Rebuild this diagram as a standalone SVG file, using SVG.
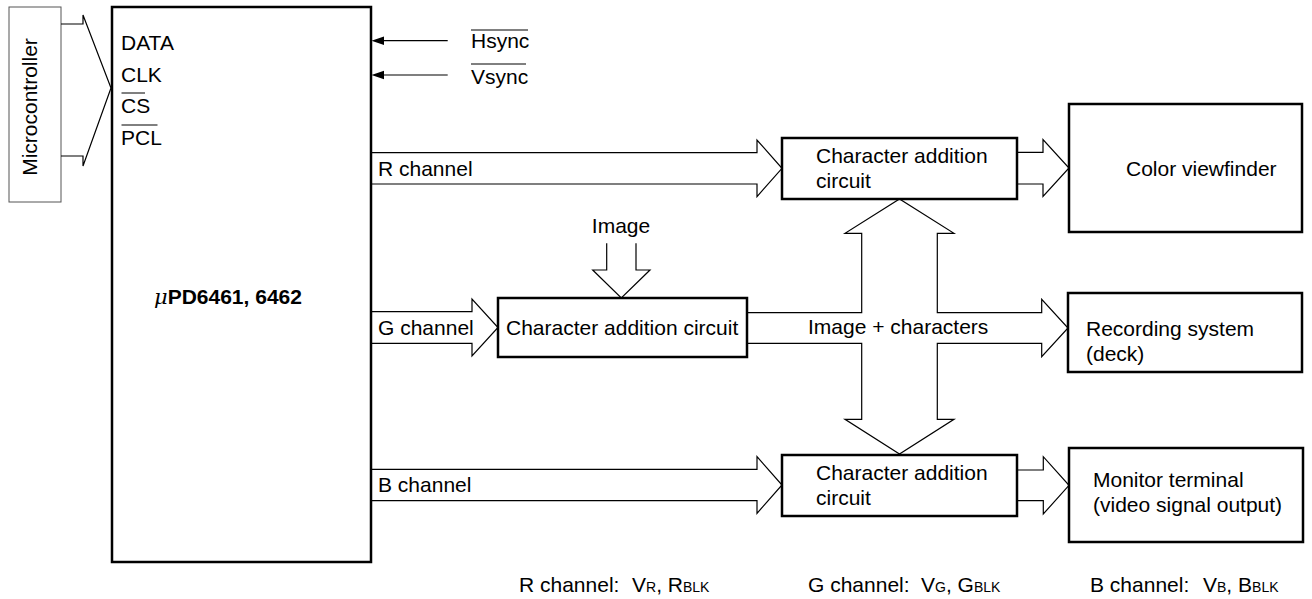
<svg xmlns="http://www.w3.org/2000/svg" width="1312" height="599" viewBox="0 0 1312 599">
<style>
text{font-family:"Liberation Sans",Arial,sans-serif;font-size:21px;fill:#000}
.thick{fill:#fff;stroke:#000;stroke-width:2.5}
.thin{fill:none;stroke:#000;stroke-width:1}
.conn{fill:none;stroke:#000;stroke-width:1.2}
.head{fill:#000;stroke:none}
.sub{font-size:14px}
</style>
<rect width="1312" height="599" fill="#fff"/>

<g id="microcontroller">
<rect x="9" y="7" width="52" height="195" fill="#fff" stroke="#555" stroke-width="1"/>
<text transform="translate(37,107) rotate(-90)" text-anchor="middle">Microcontroller</text>
</g>

<g id="chip">
<rect x="112" y="7" width="259" height="555" class="thick"/>
<text x="121" y="50">DATA</text>
<text x="121" y="82">CLK</text>
<text x="121" y="113">CS</text>
<line x1="121.5" y1="93" x2="145" y2="93" class="thin"/>
<text x="121" y="145">PCL</text>
<line x1="121.5" y1="125" x2="157.5" y2="125" class="thin"/>
<text x="154" y="304"><tspan font-style="italic" font-family="'DejaVu Serif',serif">μ</tspan><tspan font-weight="bold">PD6461, 6462</tspan></text>
</g>

<g id="hsync">
<text x="471" y="48">Hsync</text>
<line x1="471" y1="30" x2="528" y2="30" class="thin"/>
</g>
<g id="vsync">
<text x="471" y="84">Vsync</text>
<line x1="471" y1="64" x2="526" y2="64" class="thin"/>
</g>

<g id="char-r">
<rect x="782" y="138" width="235" height="61" class="thick"/>
<text x="816" y="163">Character addition</text>
<text x="816" y="188">circuit</text>
</g>
<g id="char-g">
<rect x="498" y="298" width="249" height="59" class="thick"/>
<text x="506" y="335">Character addition circuit</text>
</g>
<g id="char-b">
<rect x="782" y="455" width="235" height="61" class="thick"/>
<text x="816" y="480">Character addition</text>
<text x="816" y="505">circuit</text>
</g>

<g id="viewfinder">
<rect x="1069" y="104" width="233" height="128" class="thick"/>
<text x="1126" y="176">Color viewfinder</text>
</g>
<g id="recording">
<rect x="1068" y="293" width="234" height="79" class="thick"/>
<text x="1086" y="336">Recording system</text>
<text x="1086" y="361">(deck)</text>
</g>
<g id="monitor">
<rect x="1069" y="448" width="234" height="94" class="thick"/>
<text x="1093" y="487">Monitor terminal</text>
<text x="1093" y="512">(video signal output)</text>
</g>

<g id="labels">
<text x="378" y="176">R channel</text>
<text x="378" y="335">G channel</text>
<text x="378" y="492">B channel</text>
<text x="621" y="233" text-anchor="middle">Image</text>
<text x="808" y="334">Image + characters</text>
<text x="519" y="592">R channel:<tspan x="632">V</tspan><tspan class="sub">R</tspan>, R<tspan class="sub">BLK</tspan></text>
<text x="808" y="592">G channel:<tspan x="921">V</tspan><tspan class="sub">G</tspan>, G<tspan class="sub">BLK</tspan></text>
<text x="1090" y="592">B channel:<tspan x="1203">V</tspan><tspan class="sub">B</tspan>, B<tspan class="sub">BLK</tspan></text>
</g>

<g id="connectors">
<path class="conn" d="M61,24 H83 V15 L111,88 L83,166 V156 H61"/>
<line x1="447.7" y1="40.7" x2="382" y2="40.7" class="conn" stroke="#555"/>
<polygon class="head" points="371.5,40.7 384,36.5 384,44.9"/>
<line x1="447.7" y1="75" x2="382" y2="75" class="conn"/>
<polygon class="head" points="371.5,75 384,70.8 384,79.2"/>
<path class="conn" d="M371,152.7 H757 V140 L782,168.3 L757,196.6 V184 H371"/>
<path class="conn" d="M1017,152.3 H1043 V139.5 L1069,168 L1043,196.5 V184 H1017"/>
<path class="conn" d="M371,311.7 H472 V299 L498,327.5 L472,356 V343.3 H371"/>
<path class="conn" d="M606.7,243.3 V270 H592.7 L621.3,298 L650,270 H636 V243.3"/>
<path class="conn" d="M748,312.7 H861.7 V233.3 H845 L899.5,199 L954,233.3 H937.3 V312.7 H1041.7 V299.3 L1068,328 L1041.7,356.7 V343.3 H937.3 V419.3 H954 L899.5,454 L845,419.3 H861.7 V343.3 H748"/>
<path class="conn" d="M371,469.3 H757 V456.7 L782,485 L757,513.3 V500.7 H371"/>
<path class="conn" d="M1017,470 H1043.3 V456.7 L1069,485.3 L1043.3,514 V500.7 H1017"/>
</g>
</svg>
